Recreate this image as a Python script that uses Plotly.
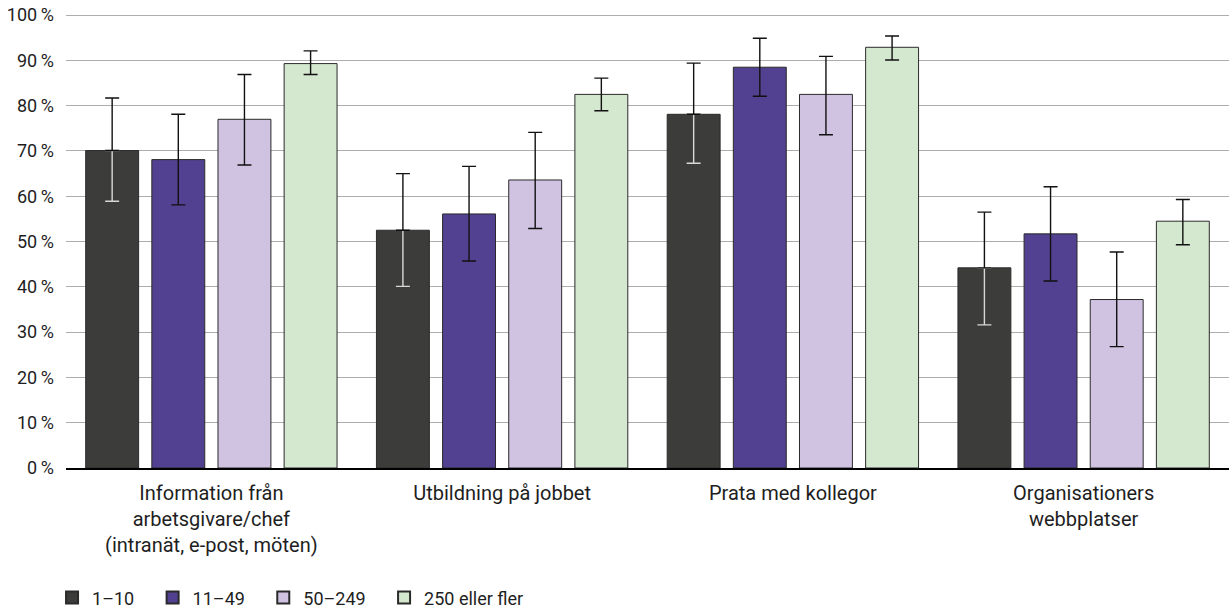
import plotly.graph_objects as go

CATEGORIES = [
    "Information från<br>arbetsgivare/chef<br>(intranät, e-post, möten)",
    "Utbildning på jobbet",
    "Prata med kollegor",
    "Organisationers<br>webbplatser",
]
SERIES = ["1–10", "11–49", "50–249", "250 eller fler"]

# share (%) and confidence interval bounds, one list per size class
S1_VAL = [70.1, 52.5, 78.1, 44.2]
S1_HI = [81.7, 65.0, 89.4, 56.5]
S1_LO = [58.9, 40.1, 67.3, 31.6]

S2_VAL = [68.1, 56.1, 88.5, 51.7]
S2_HI = [78.1, 66.6, 94.9, 62.1]
S2_LO = [58.1, 45.7, 82.1, 41.3]

S3_VAL = [77.0, 63.6, 82.5, 37.2]
S3_HI = [86.9, 74.1, 90.9, 47.7]
S3_LO = [66.9, 52.9, 73.6, 26.8]

S4_VAL = [89.3, 82.5, 92.9, 54.5]
S4_HI = [92.1, 86.1, 95.4, 59.3]
S4_LO = [86.9, 78.9, 90.1, 49.3]

Y_TICKS = [0, 10, 20, 30, 40, 50, 60, 70, 80, 90, 100]

# COLORS
COLORS = ['#3c3c3a', '#524190', '#d0c3e2', '#d4e7cf']
OUTLINE = '#2a2a2a'
GRID_COLOR = '#adadad'
ERR_COLOR = '#111111'
ERR_LIGHT = '#d8d8d8'
FONT = 'Roboto'
TEXT_COLOR = '#1e1e1e'

ERR_W = 7
ERR_T = 1.4

series = [
    (S1_VAL, S1_HI, S1_LO),
    (S2_VAL, S2_HI, S2_LO),
    (S3_VAL, S3_HI, S3_LO),
    (S4_VAL, S4_HI, S4_LO),
]

fig = go.Figure()

for i, (vals, hi, lo) in enumerate(series):
    up = [h - v for h, v in zip(hi, vals)]
    down = [v - l for v, l in zip(vals, lo)]
    group = "g%d" % i
    # trailing spaces widen the legend entries like the original
    label = SERIES[i] + "\u00a0" * 3
    if i == 0:
        # dark bars: lower whisker drawn light on top of the bar, upper whisker black
        fig.add_trace(go.Bar(x=CATEGORIES, y=vals, name=label, offsetgroup=group,
                             marker=dict(color=COLORS[i], line=dict(color=OUTLINE, width=1))))
        fig.add_trace(go.Bar(x=CATEGORIES, y=vals, offsetgroup=group, showlegend=False,
                             hoverinfo='skip',
                             marker=dict(color='rgba(0,0,0,0)', line=dict(width=0)),
                             error_y=dict(type='data', symmetric=False, array=[0] * len(vals),
                                          arrayminus=down, color=ERR_LIGHT,
                                          thickness=ERR_T, width=ERR_W)))
        fig.add_trace(go.Bar(x=CATEGORIES, y=vals, offsetgroup=group, showlegend=False,
                             hoverinfo='skip',
                             marker=dict(color='rgba(0,0,0,0)', line=dict(width=0)),
                             error_y=dict(type='data', symmetric=False, array=up,
                                          arrayminus=[0] * len(vals), color=ERR_COLOR,
                                          thickness=ERR_T, width=ERR_W)))
    else:
        fig.add_trace(go.Bar(x=CATEGORIES, y=vals, name=label, offsetgroup=group,
                             marker=dict(color=COLORS[i], line=dict(color=OUTLINE, width=1)),
                             error_y=dict(type='data', symmetric=False, array=up,
                                          arrayminus=down, color=ERR_COLOR,
                                          thickness=ERR_T, width=ERR_W)))

fig.update_layout(
    width=1231, height=610,
    barmode='group', bargap=0.09, bargroupgap=0.2,
    plot_bgcolor='white', paper_bgcolor='white',
    margin=dict(l=66, r=2, t=14, b=142),
    font=dict(family=FONT, size=18, color=TEXT_COLOR),
    legend=dict(orientation='h', x=-0.012, xanchor='left',
                yref='container', y=0.02, yanchor='middle',
                font=dict(size=18), itemwidth=30, traceorder='normal',
                tracegroupgap=0, itemsizing='constant'),
)
fig.update_yaxes(range=[0, 100.25], tickvals=Y_TICKS,
                 ticktext=["%d\u2009%%" % t for t in Y_TICKS],
                 showgrid=True, gridcolor=GRID_COLOR, gridwidth=1, zeroline=False,
                 ticks='', showline=False, tickfont=dict(size=18), ticklabelstandoff=11)
fig.update_xaxes(showline=True, linecolor='black', linewidth=1.5, ticks='',
                 tickfont=dict(size=20), ticklabelstandoff=6)

# drop the browser's default body margin so the figure sits at the page corner
fig.write_html("out.html", config={'displayModeBar': False},
               post_script="document.body.style.margin='0';")
